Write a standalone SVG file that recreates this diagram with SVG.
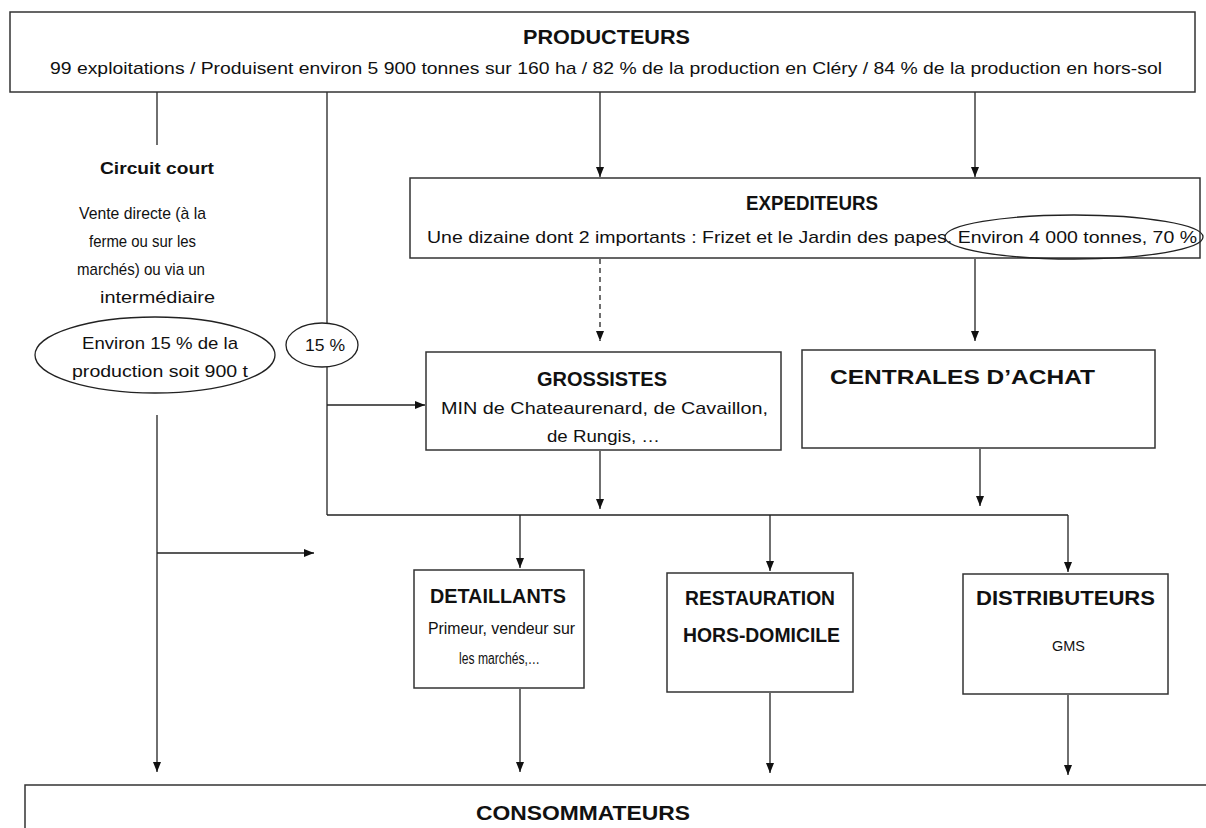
<svg xmlns="http://www.w3.org/2000/svg" width="1206" height="828" viewBox="0 0 1206 828">
<style>
.box{fill:#fff;stroke:#333;stroke-width:1.5}
.ell{fill:none;stroke:#222;stroke-width:1.3}
.t{font-family:"Liberation Sans",Arial,sans-serif;fill:#111}
.b{font-weight:bold}
.c{stroke:#222;stroke-width:1.3;fill:none}
</style>
<defs>
<marker id="ah" markerUnits="userSpaceOnUse" markerWidth="10" markerHeight="10" refX="10" refY="4" orient="auto">
<path d="M0,0 L10,4 L0,8 z" fill="#111"/>
</marker>
</defs>
<rect width="1206" height="828" fill="#fff"/>
<g id="connectors">
<line class="c" x1="157" y1="92" x2="157" y2="145"/>
<line class="c" x1="157" y1="415" x2="157" y2="772" marker-end="url(#ah)"/>
<line class="c" x1="157" y1="553" x2="314" y2="553" marker-end="url(#ah)"/>
<line class="c" x1="327" y1="92" x2="327" y2="323"/>
<line class="c" x1="327" y1="367" x2="327" y2="515"/>
<line class="c" x1="327" y1="405" x2="425" y2="405" marker-end="url(#ah)"/>
<line class="c" x1="600" y1="92" x2="600" y2="177" marker-end="url(#ah)"/>
<line class="c" x1="975" y1="92" x2="975" y2="177" marker-end="url(#ah)"/>
<line class="c" x1="600" y1="259" x2="600" y2="341" stroke-dasharray="5,4" marker-end="url(#ah)"/>
<line class="c" x1="975" y1="259" x2="975" y2="341" stroke-width="2" marker-end="url(#ah)"/>
<line class="c" x1="600" y1="451" x2="600" y2="509" marker-end="url(#ah)"/>
<line class="c" x1="980" y1="449" x2="980" y2="506" marker-end="url(#ah)"/>
<line class="c" x1="327" y1="515" x2="1068" y2="515"/>
<line class="c" x1="520" y1="515" x2="520" y2="568" marker-end="url(#ah)"/>
<line class="c" x1="770" y1="515" x2="770" y2="571" marker-end="url(#ah)"/>
<line class="c" x1="1068" y1="515" x2="1068" y2="572" marker-end="url(#ah)"/>
<line class="c" x1="520" y1="689" x2="520" y2="772" marker-end="url(#ah)"/>
<line class="c" x1="770" y1="693" x2="770" y2="773" marker-end="url(#ah)"/>
<line class="c" x1="1068" y1="695" x2="1068" y2="775" marker-end="url(#ah)"/>
</g>
<g id="producteurs">
<rect class="box" x="10" y="12" width="1185" height="80"/>
<text class="t b" x="523" y="44" font-size="21" textLength="167" lengthAdjust="spacingAndGlyphs">PRODUCTEURS</text>
<text class="t" x="50" y="74" font-size="17" textLength="1112" lengthAdjust="spacingAndGlyphs">99 exploitations / Produisent environ 5 900 tonnes sur 160 ha / 82 % de la production en Cléry / 84 % de la production en hors-sol</text>
</g>
<g id="circuit-court">
<text class="t b" x="100" y="174" font-size="16" textLength="114" lengthAdjust="spacingAndGlyphs">Circuit court</text>
<text class="t" x="79" y="219" font-size="17" textLength="127" lengthAdjust="spacingAndGlyphs">Vente directe (à la</text>
<text class="t" x="89" y="247" font-size="17" textLength="107" lengthAdjust="spacingAndGlyphs">ferme ou sur les</text>
<text class="t" x="77" y="275" font-size="17" textLength="128" lengthAdjust="spacingAndGlyphs">marchés) ou via un</text>
<text class="t" x="100" y="303" font-size="17" textLength="115" lengthAdjust="spacingAndGlyphs">intermédiaire</text>
</g>
<g id="ellipse-15-production">
<ellipse class="ell" cx="155" cy="355" rx="120" ry="38"/>
<text class="t" x="82" y="349" font-size="17" textLength="156" lengthAdjust="spacingAndGlyphs">Environ 15 % de la</text>
<text class="t" x="72" y="377" font-size="17" textLength="176" lengthAdjust="spacingAndGlyphs">production soit 900 t</text>
</g>
<g id="ellipse-15">
<ellipse class="ell" cx="322" cy="345" rx="36" ry="22"/>
<text class="t" x="305" y="351" font-size="17" textLength="40" lengthAdjust="spacingAndGlyphs">15 %</text>
</g>
<g id="expediteurs">
<rect class="box" x="410" y="178" width="790" height="80"/>
<text class="t b" x="746" y="210" font-size="21" textLength="132" lengthAdjust="spacingAndGlyphs">EXPEDITEURS</text>
<text class="t" x="427" y="243" font-size="17" textLength="770" lengthAdjust="spacingAndGlyphs">Une dizaine dont 2 importants : Frizet et le Jardin des papes. Environ 4 000 tonnes, 70 %</text>
<ellipse class="ell" cx="1074" cy="237" rx="129" ry="22"/>
</g>
<g id="grossistes">
<rect class="box" x="426" y="352" width="355" height="98"/>
<text class="t b" x="537" y="386" font-size="21" textLength="130" lengthAdjust="spacingAndGlyphs">GROSSISTES</text>
<text class="t" x="441" y="414" font-size="17" textLength="327" lengthAdjust="spacingAndGlyphs">MIN de Chateaurenard, de Cavaillon,</text>
<text class="t" x="547" y="442" font-size="17" textLength="113" lengthAdjust="spacingAndGlyphs">de Rungis, …</text>
</g>
<g id="centrales">
<rect class="box" x="802" y="350" width="353" height="98"/>
<text class="t b" x="830" y="384" font-size="21" textLength="265" lengthAdjust="spacingAndGlyphs">CENTRALES D’ACHAT</text>
</g>
<g id="detaillants">
<rect class="box" x="414" y="570" width="170" height="118"/>
<text class="t b" x="430" y="603" font-size="21" textLength="136" lengthAdjust="spacingAndGlyphs">DETAILLANTS</text>
<text class="t" x="428" y="634" font-size="16" textLength="147" lengthAdjust="spacingAndGlyphs">Primeur, vendeur sur</text>
<text class="t" x="459" y="664" font-size="16" textLength="81" lengthAdjust="spacingAndGlyphs">les marchés,…</text>
</g>
<g id="restauration">
<rect class="box" x="667" y="573" width="186" height="119"/>
<text class="t b" x="685" y="605" font-size="21" textLength="150" lengthAdjust="spacingAndGlyphs">RESTAURATION</text>
<text class="t b" x="683" y="642" font-size="21" textLength="157" lengthAdjust="spacingAndGlyphs">HORS-DOMICILE</text>
</g>
<g id="distributeurs">
<rect class="box" x="963" y="574" width="205" height="120"/>
<text class="t b" x="976" y="605" font-size="21" textLength="179" lengthAdjust="spacingAndGlyphs">DISTRIBUTEURS</text>
<text class="t" x="1052" y="651" font-size="15" textLength="33" lengthAdjust="spacingAndGlyphs">GMS</text>
</g>
<g id="consommateurs">
<rect class="box" x="25" y="785" width="1200" height="100"/>
<text class="t b" x="476" y="820" font-size="21" textLength="214" lengthAdjust="spacingAndGlyphs">CONSOMMATEURS</text>
</g>
</svg>
